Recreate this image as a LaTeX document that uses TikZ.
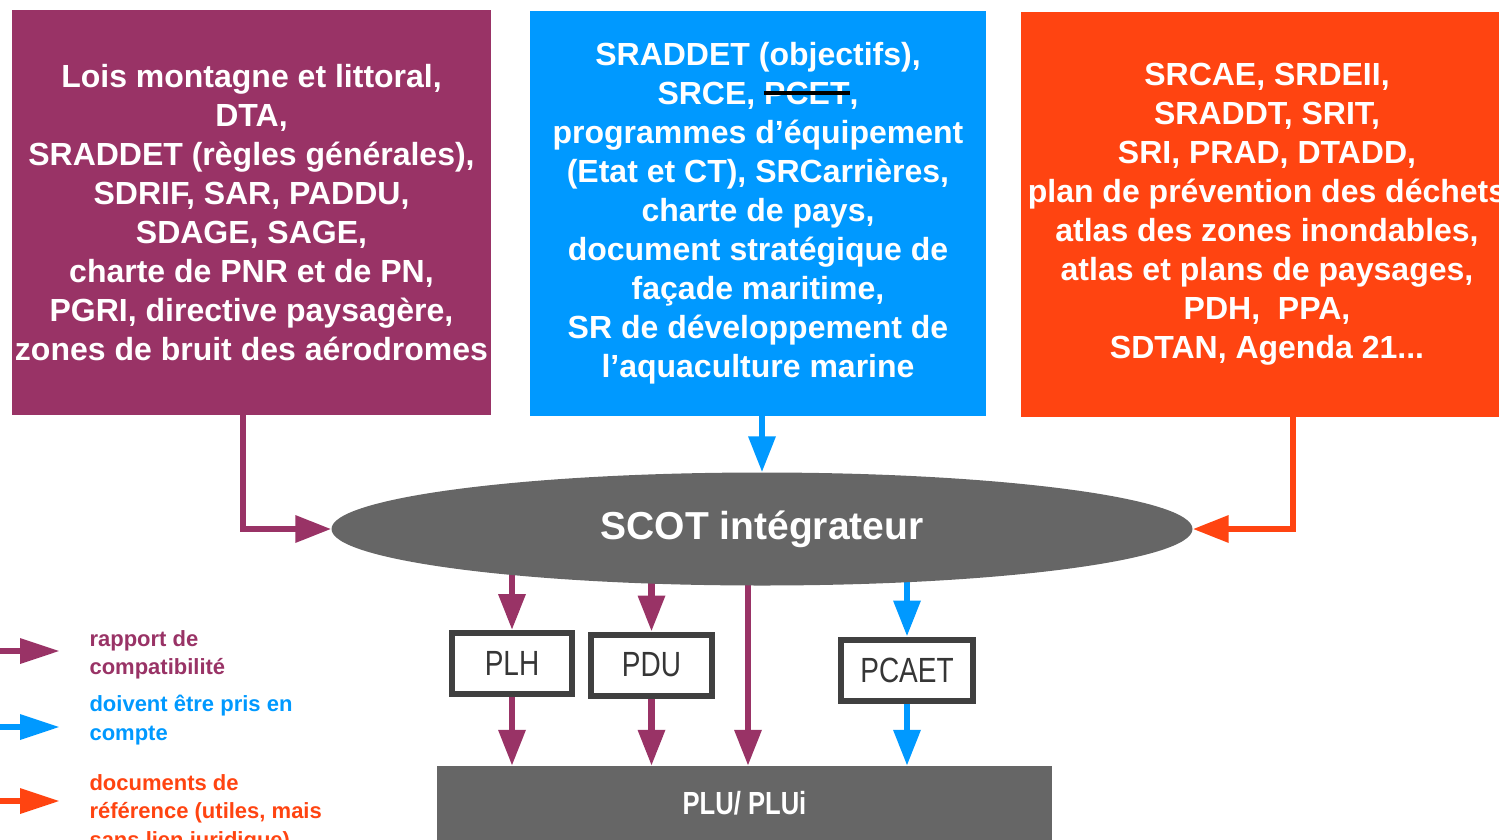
\documentclass[tikz,border=0pt]{standalone}
\usepackage{fontspec}
\setmainfont{Liberation Sans}
\newfontfamily\narrowfont[FakeStretch=0.8]{Liberation Sans}
\usepackage{xcolor}
\usetikzlibrary{shapes,arrows,positioning,calc,arrows.meta,backgrounds}
\definecolor{compat}{HTML}{993366}
\definecolor{prise}{HTML}{0099FF}
\definecolor{refdoc}{HTML}{FF4411}
\definecolor{scotgray}{HTML}{666666}
\definecolor{boxline}{HTML}{404040}
\newsavebox{\barrebox}
\newcommand{\barre}[1]{\sbox{\barrebox}{#1}\usebox{\barrebox}\llap{\color{black}\rule[0.3em]{\wd\barrebox}{4.5pt}}}

\begin{document}
\begin{tikzpicture}[x=1pt, y=-1pt,
    docbox/.style={minimum height=405pt, inner sep=0pt, align=center, text=white,
        font=\bfseries\fontsize{32}{39}\selectfont},
    planbox/.style={draw=boxline, line width=6pt, fill=white, minimum height=61pt,
        inner sep=0pt, text=boxline!85!black, font=\narrowfont\fontsize{35}{40}\selectfont},
    link/.style={line width=6.5pt, -{Triangle[length=36pt,width=26pt]}},
    legendtext/.style={anchor=west, align=left, font=\bfseries\fontsize{22}{28.5}\selectfont}]
    \useasboundingbox (0,0) rectangle (1499,839);

    % Documents de rang superieur
    \node[docbox, fill=compat, minimum width=479pt] (lois) at (251.5,212.5)
        {Lois montagne et littoral,\\ DTA,\\ SRADDET (règles générales),\\ SDRIF, SAR, PADDU,\\
         SDAGE, SAGE,\\ charte de PNR et de PN,\\ PGRI, directive paysagère,\\ zones de bruit des aérodromes};
    \node[docbox, fill=prise, minimum width=456pt] (srce) at (758,213.5)
        {SRADDET (objectifs),\\ SRCE, \barre{PCET},\\ programmes d’équipement\\ (Etat et CT), SRCarrières,\\
         charte de pays,\\ document stratégique de\\ façade maritime,\\ SR de développement de\\ l’aquaculture marine};
    \node[docbox, fill=refdoc, minimum width=492pt] (srcae) at (1267,214)
        {SRCAE, SRDEII,\\ SRADDT, SRIT,\\ SRI, PRAD, DTADD,\\ plan de prévention des déchets\\
         atlas des zones inondables,\\ atlas et plans de paysages,\\ PDH,\ \ PPA,\\ SDTAN, Agenda 21...};

    % SCOT et documents locaux
    \node[ellipse, fill=scotgray, minimum width=861pt, minimum height=113pt, inner sep=0pt,
        text=white, font=\bfseries\fontsize{39}{44}\selectfont] (scot) at (762,529) {SCOT intégrateur};
    \node[planbox, minimum width=120pt] (plh) at (512,663.5) {PLH};
    \node[planbox, minimum width=121pt] (pdu) at (651.5,665) {PDU};
    \node[planbox, minimum width=132pt] (pcaet) at (907,670) {PCAET};
    \node[fill=scotgray, minimum width=615pt, minimum height=74pt, inner sep=0pt, text=white,
        font=\narrowfont\bfseries\fontsize{32}{36}\selectfont] (plu) at (744.5,803) {PLU/ PLUi};

    % Liens
    \coordinate (pbend) at (243,0);
    \coordinate (obend) at (1293,0);
    \coordinate (direct) at (748,0);
    \draw[link, compat] (lois.south -| pbend) |- (scot.west);
    \draw[link, prise] (srce.south -| scot.north) -- (scot.north);
    \draw[link, refdoc] (srcae.south -| obend) |- (scot.east);
    \begin{scope}[on background layer]
        \draw[link, compat] (plh.north |- scot.center) -- (plh.north);
        \draw[link, compat] (pdu.north |- scot.center) -- (pdu.north);
        \draw[link, compat] (direct |- scot.center) -- (direct |- plu.north);
        \draw[link, prise] (pcaet.north |- scot.center) -- (pcaet.north);
    \end{scope}
    \draw[link, compat] (plh.south) -- (plh.south |- plu.north);
    \draw[link, compat] (pdu.south) -- (pdu.south |- plu.north);
    \draw[link, prise] (pcaet.south) -- (pcaet.south |- plu.north);

    % Legende
    \node[legendtext, text=compat] (lgcompat) at (86,655) {rapport de\\ compatibilité};
    \node[legendtext, text=prise] (lgprise) at (86,720) {doivent être pris en\\ compte};
    \node[legendtext, text=refdoc] (lgref) at (86,813) {documents de\\ référence (utiles, mais\\ sans lien juridique)};
    \coordinate (l1) at (0,651);
    \coordinate (l2) at (0,727);
    \coordinate (l3) at (0,801);
    \draw[link, compat, -{Triangle[length=40pt,width=24pt]}] (l1) -- ++(60,0);
    \draw[link, prise, -{Triangle[length=40pt,width=24pt]}] (l2) -- ++(60,0);
    \draw[link, refdoc, -{Triangle[length=40pt,width=24pt]}] (l3) -- ++(60,0);
\end{tikzpicture}
\end{document}
